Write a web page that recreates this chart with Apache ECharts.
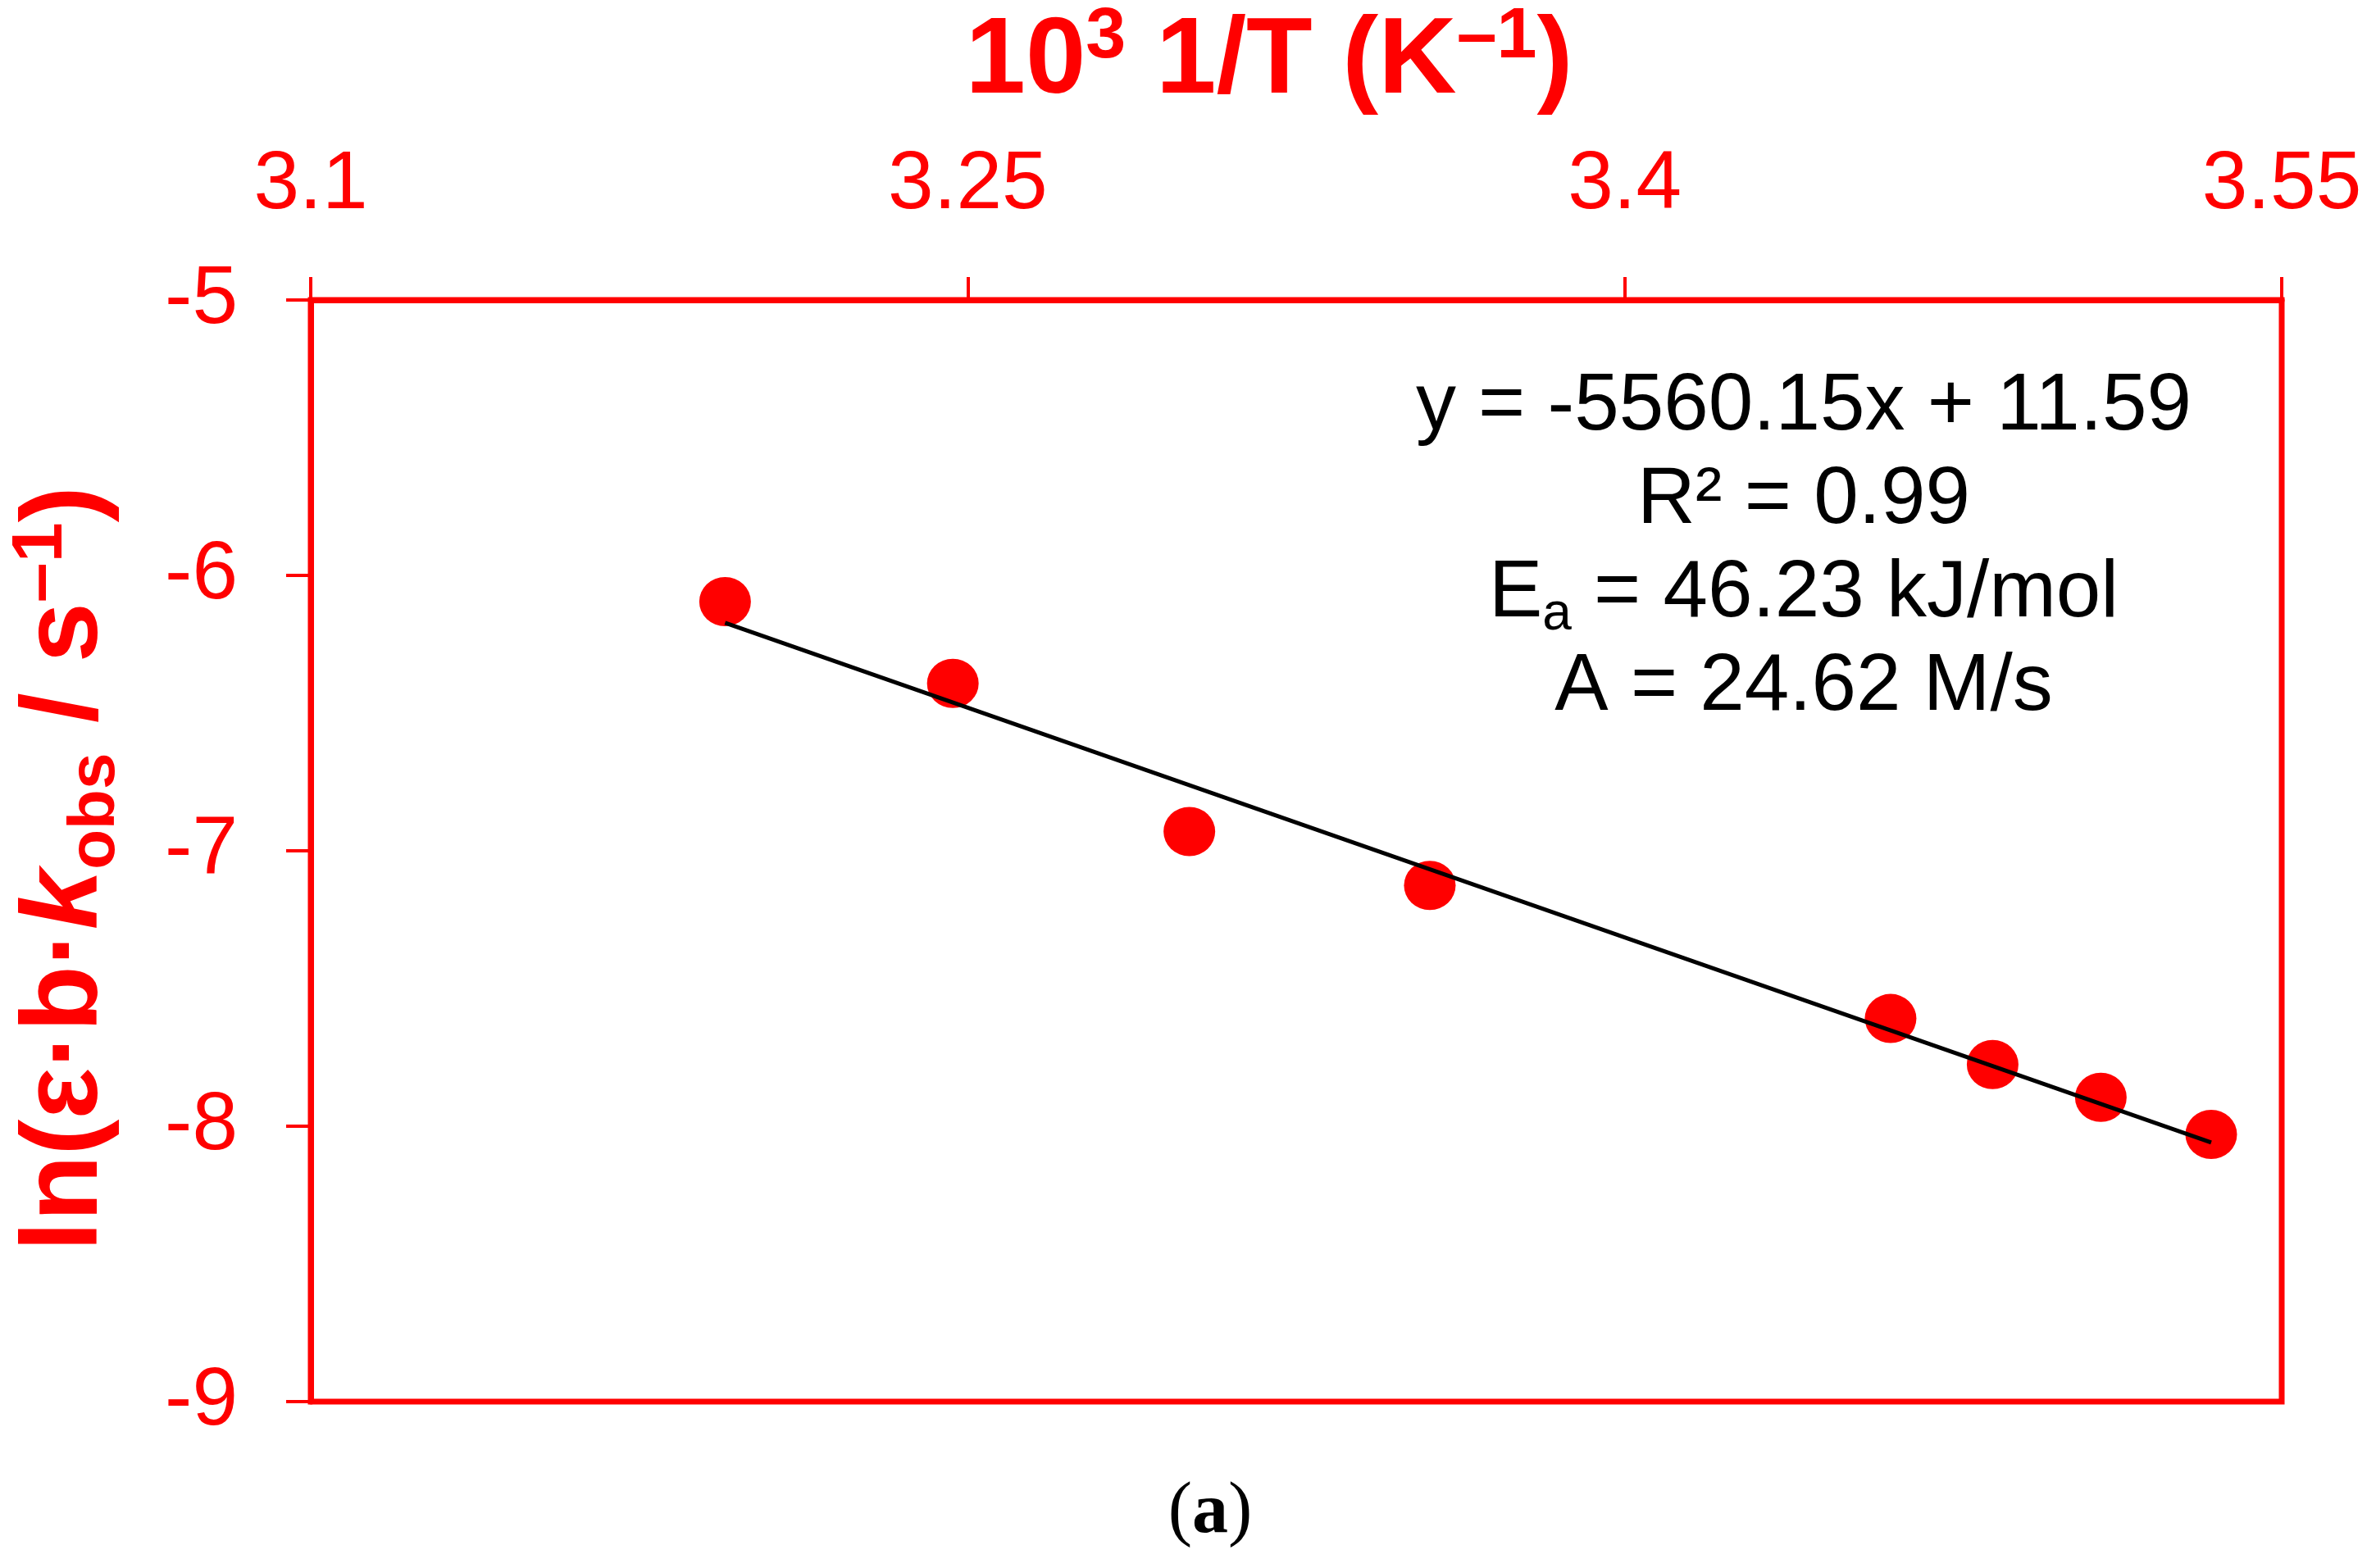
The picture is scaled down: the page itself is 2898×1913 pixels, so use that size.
<!DOCTYPE html>
<html>
<head>
<meta charset="utf-8">
<script src="https://cdn.jsdelivr.net/npm/echarts@6/dist/echarts.min.js"></script>
<style>
html,body{margin:0;padding:0;background:#fff;}
#c{width:2898px;height:1913px;}
</style>
</head>
<body>
<div id="c"></div>
<script>
// ---- data ----
const xTickLabels = ['3.1', '3.25', '3.4', '3.55'];
const yTickLabels = ['-9', '-8', '-7', '-6', '-5'];
const invT = [3.1946, 3.2466, 3.3006, 3.3555, 3.4607, 3.4840, 3.5087, 3.5339];
const lnK  = [-6.095, -6.392, -6.930, -7.126, -7.609, -7.776, -7.895, -8.030];
const fitX = [3.1946, 3.5339];
const fitY = [-6.172, -8.059];
const eqLine = 'y = -5560.15x + 11.59';
const r2Line = 'R² = 0.99';
const eaValue = ' = 46.23 kJ/mol';
const aLine = 'A = 24.62 M/s';

const RED = '#ff0000';
const SANS = '"Liberation Sans", Arial, sans-serif';
const SERIF = '"Liberation Serif", "Times New Roman", serif';

const chart = echarts.init(document.getElementById('c'));
const option = {
  animation: false,
  backgroundColor: '#ffffff',
  grid: {
    left: 379, right: 115, top: 366, bottom: 203,
    show: true, borderColor: RED, borderWidth: 7, backgroundColor: 'transparent'
  },
  xAxis: {
    type: 'value', position: 'top',
    min: 3.1, max: 3.55, interval: 0.15,
    axisLine: { show: true, onZero: false, lineStyle: { color: RED, width: 7 } },
    axisTick: { show: true, inside: false, length: 28, lineStyle: { color: RED, width: 4 } },
    splitLine: { show: false },
    axisLabel: {
      color: RED, fontSize: 100, fontFamily: SANS, margin: 90,
      formatter: (v, i) => xTickLabels[i]
    }
  },
  yAxis: {
    type: 'value',
    min: -9, max: -5, interval: 1,
    axisLine: { show: true, onZero: false, lineStyle: { color: RED, width: 7 } },
    axisTick: { show: true, inside: false, length: 30, lineStyle: { color: RED, width: 4 } },
    splitLine: { show: false },
    axisLabel: {
      color: RED, fontSize: 100, fontFamily: SANS, margin: 89,
      formatter: (v, i) => yTickLabels[i]
    }
  },
  series: [
    {
      type: 'scatter',
      data: invT.map((x, i) => [x, lnK[i]]),
      symbol: 'circle',
      symbolSize: [63, 60],
      itemStyle: { color: RED, opacity: 1 },
      z: 2
    },
    {
      type: 'line',
      data: fitX.map((x, i) => [x, fitY[i]]),
      showSymbol: false,
      symbol: 'none',
      lineStyle: { color: '#000', width: 5, opacity: 1 },
      z: 3
    }
  ],
  graphic: [
    {
      type: 'text', x: 1548, y: 2,
      style: {
        text: '10{sup|3} 1/T (K{sup|–1})',
        fill: RED, fontWeight: 'bold', fontSize: 132, fontFamily: SANS,
        lineHeight: 150, align: 'center', verticalAlign: 'top',
        rich: {
          sup: { fontSize: 88, fontWeight: 'bold', fontFamily: SANS, fill: RED, lineHeight: 106, verticalAlign: 'top' }
        }
      }
    },
    {
      type: 'text', x: 82, y: 1060, rotation: Math.PI / 2,
      style: {
        text: 'ln(ε·b·{k|k}{sub|obs} / s{sup|–1})',
        fill: RED, fontWeight: 'bold', fontSize: 132, fontFamily: SANS,
        lineHeight: 150, align: 'center', verticalAlign: 'middle',
        rich: {
          k: { fontSize: 132, fontWeight: 'bold', fontStyle: 'italic', fontFamily: SANS, fill: RED, lineHeight: 150 },
          sub: { fontSize: 80, fontWeight: 'bold', fontFamily: SANS, fill: RED, lineHeight: 62, verticalAlign: 'bottom' },
          sup: { fontSize: 88, fontWeight: 'bold', fontFamily: SANS, fill: RED, lineHeight: 108, verticalAlign: 'top' }
        }
      }
    },
    {
      type: 'text', x: 2200, y: 440,
      style: {
        text: eqLine + '\n' + r2Line + '\nE{sub|a}' + eaValue + '\n' + aLine,
        fill: '#000', fontSize: 98, fontFamily: SANS,
        lineHeight: 114, align: 'center', verticalAlign: 'top',
        rich: {
          sub: { fontSize: 64, fontFamily: SANS, fill: '#000', lineHeight: 50, verticalAlign: 'bottom' }
        }
      }
    },
    {
      type: 'text', x: 1476, y: 1846,
      style: {
        text: '({b|a})',
        fill: '#000', fontSize: 88, fontFamily: SERIF,
        align: 'center', verticalAlign: 'middle',
        rich: {
          b: { fontSize: 88, fontWeight: 'bold', fontFamily: SERIF, fill: '#000' }
        }
      }
    }
  ]
};
chart.setOption(option);
</script>
</body>
</html>
